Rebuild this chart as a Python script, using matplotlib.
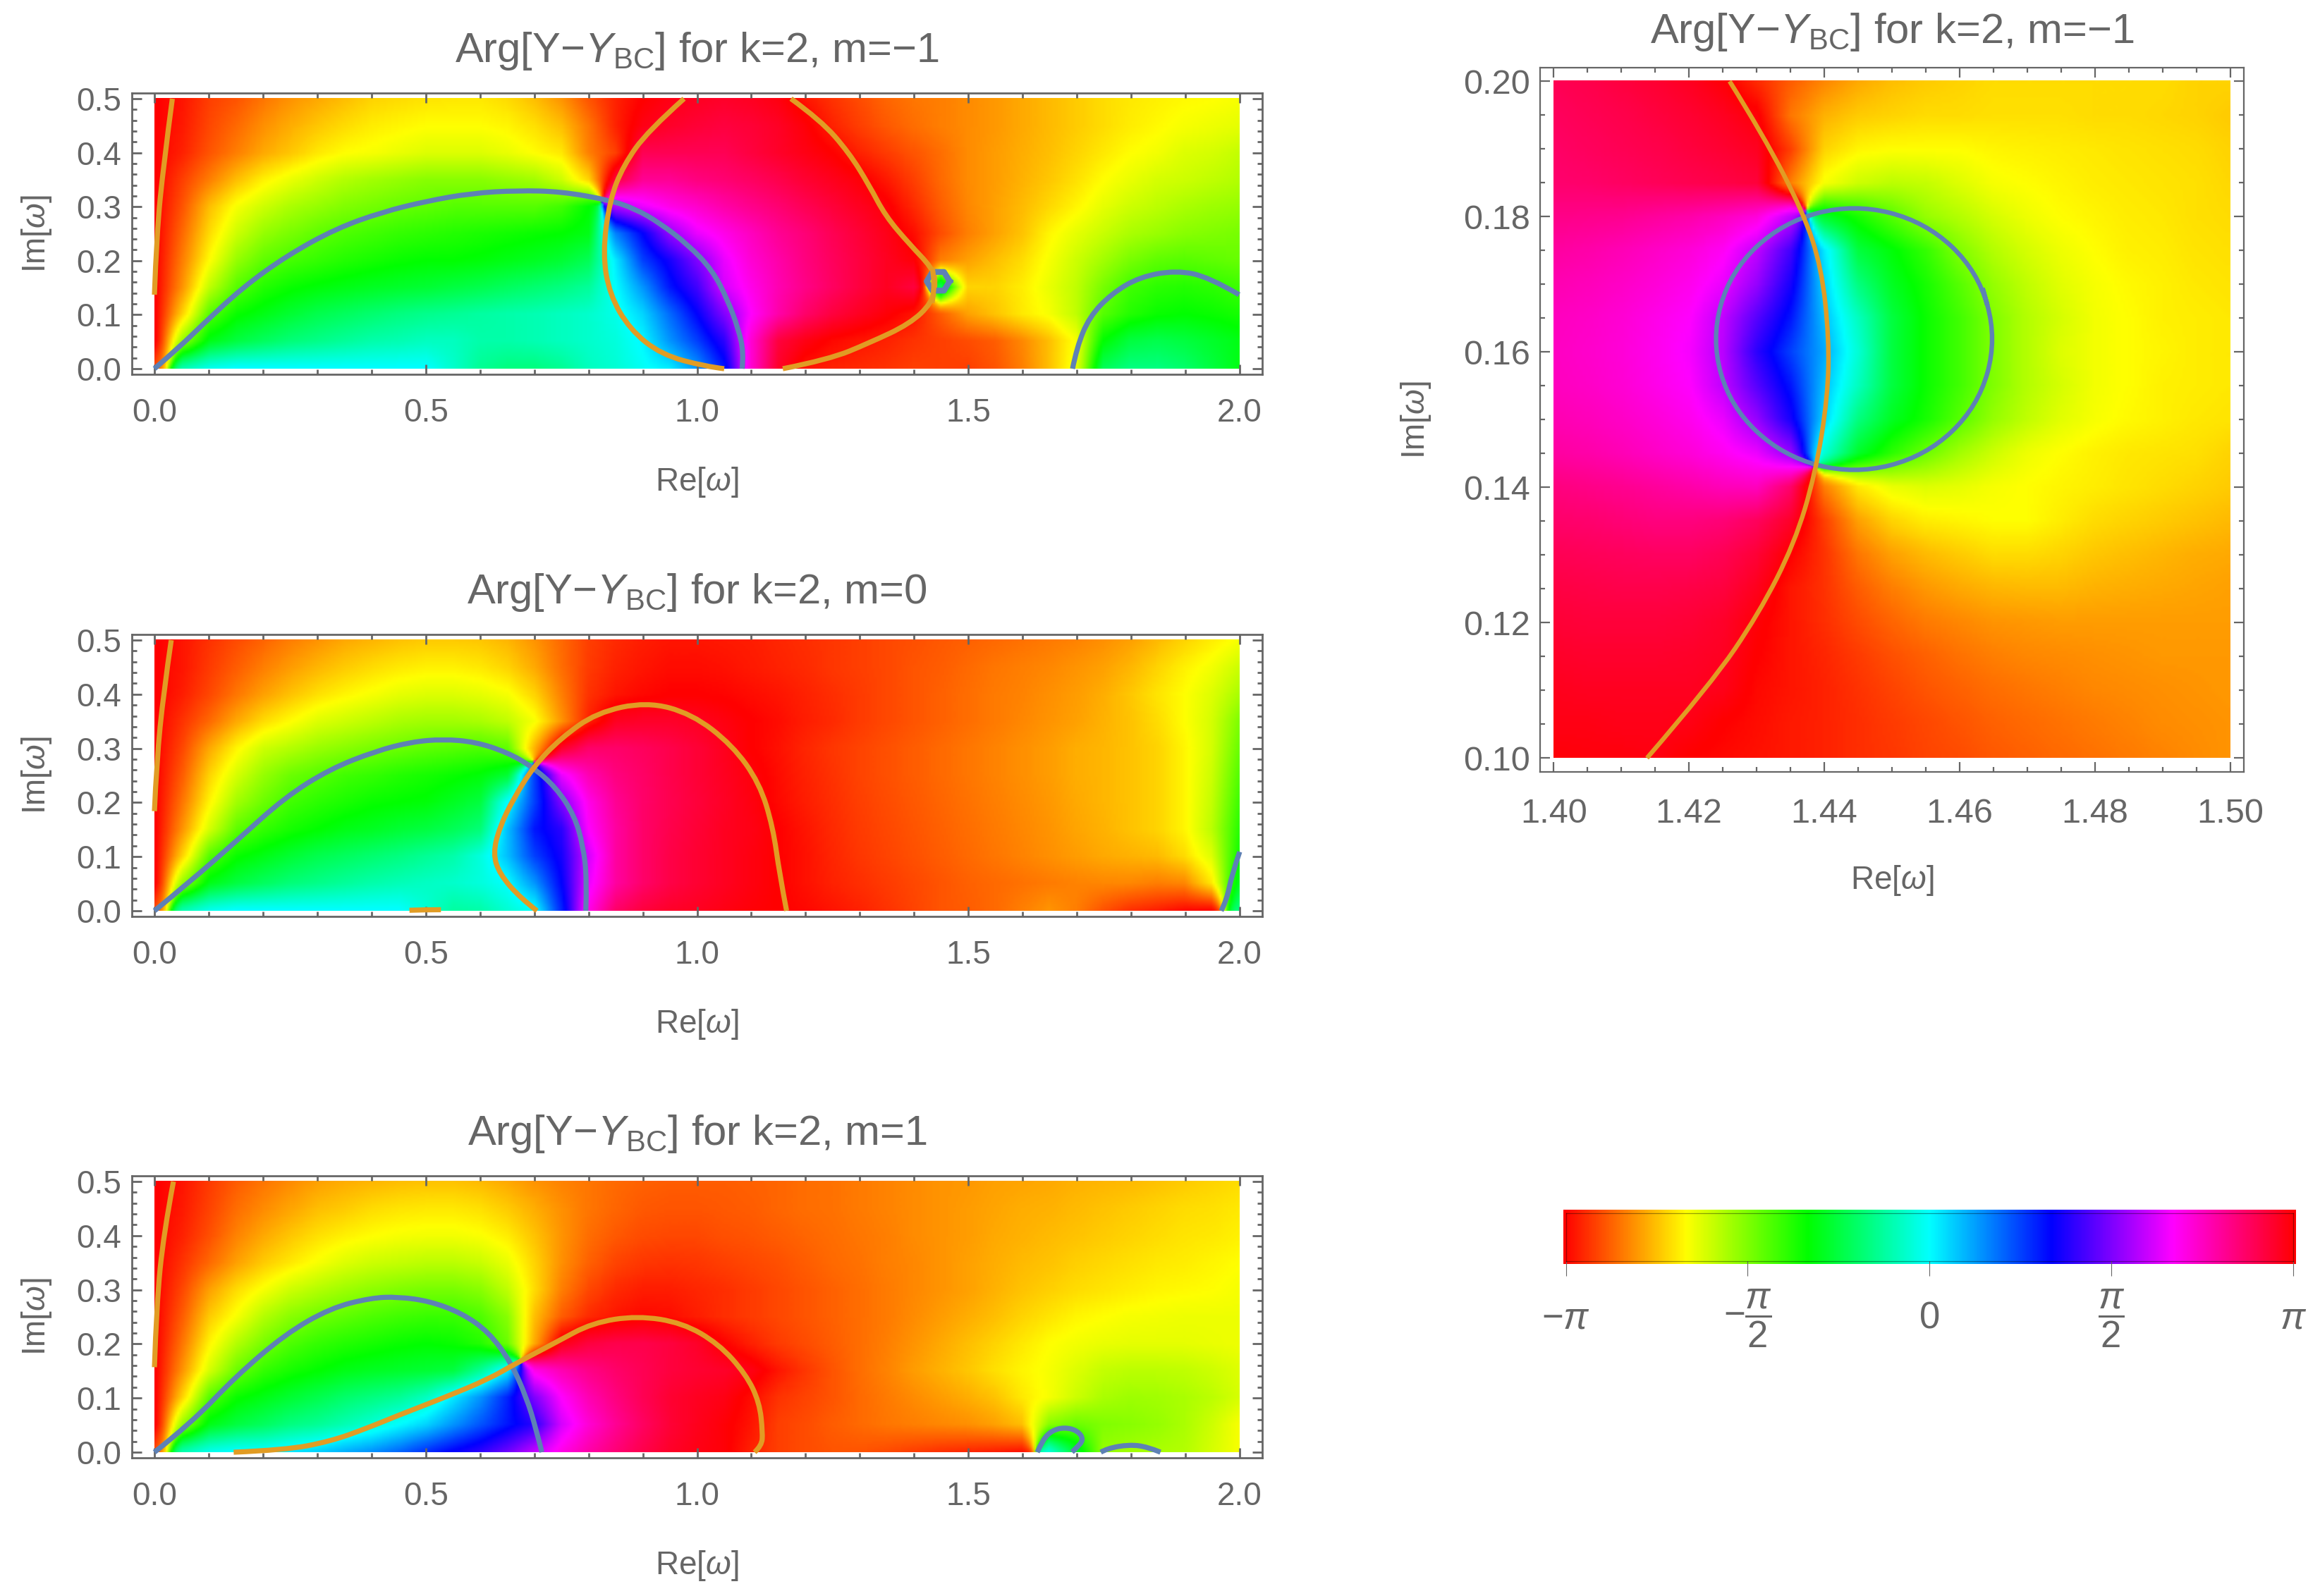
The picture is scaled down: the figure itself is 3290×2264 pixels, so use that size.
import numpy as np
import matplotlib
matplotlib.use("Agg")
import matplotlib.pyplot as plt
from matplotlib.colors import LinearSegmentedColormap, Normalize
from matplotlib.patches import PathPatch, Rectangle
from matplotlib.path import Path
from matplotlib.ticker import MultipleLocator, FormatStrFormatter
from matplotlib.transforms import Bbox

plt.rcParams['font.family'] = ['Liberation Sans', 'DejaVu Sans']
plt.rcParams['mathtext.fontset'] = 'custom'
plt.rcParams['mathtext.rm'] = 'Liberation Sans'
plt.rcParams['mathtext.it'] = 'Liberation Sans:italic'
plt.rcParams['mathtext.bf'] = 'Liberation Sans:bold'

# hue, in degrees (0 red, 60 yellow, 120 green, 180 cyan, 240 blue, 300 magenta)
# rows go from Im=0.5 down to Im=0 in steps of 0.05, columns from Re=0 to Re=2 in steps of 0.05
hue_m_minus1 = [
    [0,5,15,20,28,35,40,45,50,52, 54,55,55,52,45,35,20,8,0,355, 352,350,352,356,5,12,18,24,28,30, 33,36,40,44,48,52,55,57,59,60, 62],
    [0,6,17,25,34,41,47,52,56,58, 60,60,60,58,53,45,28,8,355,350, 347,345,347,351,358,8,15,21,26,30, 33,36,40,44,48,52,56,59,62,64, 66],
    [0,8,20,30,40,47,55,60,62,65, 68,68,68,65,60,55,30,15,340,340, 340,340,345,350,355,0,8,14,20,26, 33,37,41,45,50,55,60,63,68,70, 74],
    [0,15,30,45,57,65,72,78,82,85, 88,88,88,85,82,72,50,345,325,325, 330,333,337,342,348,353,358,6,15,25, 33,37,42,47,53,60,65,70,72,75, 78],
    [0,20,45,62,72,80,85,90,93,96, 98,100,100,100,100,105,120,280,295,305, 312,320,327,333,340,346,352,358,10,22, 32,38,44,51,58,66,72,76,80,83, 85],
    [0,25,52,72,85,92,98,102,105,108, 110,112,114,116,118,120,125,210,240,275, 295,305,315,325,332,340,347,354,3,18, 30,38,46,58,66,73,80,84,88,90, 92],
    [0,30,60,85,98,104,108,112,115,118, 120,120,122,125,128,132,140,185,225,245, 270,295,310,320,330,338,345,352,358,30, 38,45,52,62,72,82,92,98,100,98, 96],
    [0,35,75,100,112,118,122,125,128,130, 132,135,138,142,146,150,156,180,205,235, 255,290,305,318,328,337,345,352,345,140, 50,50,56,65,75,92,105,110,112,110, 106],
    [0,50,100,118,125,132,138,142,146,150, 153,155,158,160,162,165,168,175,190,215, 240,270,300,320,335,345,352,358,5,22, 38,46,55,62,75,100,112,118,120,118, 115],
    [0,85,125,135,142,148,152,156,160,162, 165,165,160,160,162,165,168,172,182,205, 225,250,310,345,355,2,5,8,12,15, 18,22,32,45,62,120,135,138,135,130, 125],
    [20,160,175,180,180,180,180,180,180,180, 180,168,155,150,150,155,165,170,178,185, 205,235,310,350,5,8,10,12,15,15, 15,20,30,45,65,140,150,150,145,135, 125],
]
hue_m_0 = [
    [0,5,12,18,24,30,35,40,43,46, 48,48,47,43,35,25,15,10,7,5, 5,6,7,9,11,13,15,17,19,21, 23,25,27,29,31,34,38,44,50,56, 62],
    [0,5,14,22,30,37,43,48,52,55, 57,57,55,50,40,26,14,8,5,3, 3,4,6,8,10,13,15,17,20,22, 25,28,30,32,35,38,43,50,57,63, 72],
    [0,7,17,28,38,46,53,58,62,66, 68,68,66,62,50,30,12,5,2,0, 0,1,3,5,8,11,14,17,20,23, 26,29,31,34,37,41,47,54,60,68, 80],
    [0,12,25,40,52,60,68,72,76,80, 82,82,80,75,62,35,8,352,350,350, 352,356,0,3,7,10,14,17,20,23, 26,29,32,35,38,42,46,52,60,70, 90],
    [0,17,40,58,72,78,84,88,92,95, 98,100,102,98,42,350,335,335,338,342, 347,353,0,4,9,13,16,19,22,25, 28,31,34,37,41,43,46,50,58,70, 95],
    [0,22,50,70,85,95,100,105,108,112, 115,118,122,132,225,295,318,330,336,342, 347,352,357,3,8,12,16,19,22,25, 28,31,34,37,41,43,46,50,58,72, 100],
    [0,28,58,82,95,105,110,114,118,120, 122,128,135,180,225,270,305,325,335,341, 346,351,356,2,7,11,15,18,21,24, 27,30,33,36,40,43,46,50,58,74, 105],
    [0,35,70,98,108,115,120,125,128,132, 135,140,148,195,235,250,300,322,335,342, 347,352,355,0,5,10,14,17,20,23, 26,29,32,35,39,42,46,50,58,76, 110],
    [0,50,100,118,125,132,138,142,146,150, 155,160,172,195,225,245,290,322,335,343, 348,352,356,0,4,9,13,16,19,22, 25,28,31,34,37,40,42,44,52,68, 115],
    [0,85,125,135,142,148,152,156,160,163, 166,168,172,180,205,240,295,322,335,343, 348,352,356,0,4,8,11,14,17,20, 23,25,27,29,31,32,32,30,32,55, 125],
    [20,160,175,180,180,180,180,180,180,180, 170,158,160,170,180,232,305,335,345,350, 352,355,358,0,2,5,8,12,16,20, 22,25,30,35,30,20,12,8,3,2, 150],
]
hue_m_1 = [
    [0,5,14,22,28,33,38,41,43,45, 46,46,44,40,35,31,28,25,23,22, 22,22,23,24,26,27,29,31,33,35, 36,38,39,40,42,43,44,46,48,50, 52],
    [0,6,16,26,33,39,45,48,52,54, 55,55,53,48,41,34,28,24,21,20, 20,21,22,24,26,27,29,31,33,35, 37,39,41,42,44,46,48,50,52,53, 55],
    [0,8,19,31,40,47,53,57,60,62, 63,63,61,56,46,35,26,21,18,17, 17,19,20,22,24,26,28,30,33,35, 37,40,42,44,46,48,50,52,54,55, 57],
    [0,12,25,38,48,55,62,68,72,74, 76,76,73,65,50,34,23,16,13,12, 13,15,17,19,22,25,27,30,32,35, 38,41,44,46,49,51,53,55,56,58, 60],
    [0,17,38,52,62,72,78,83,87,90, 92,92,88,75,52,30,17,10,7,7, 9,11,14,17,20,23,26,29,32,35, 38,42,46,49,52,54,56,58,59,60, 62],
    [0,22,48,62,78,88,94,98,102,105, 107,107,102,88,45,22,10,5,2,3, 7,11,14,17,20,23,26,29,33,37, 41,45,50,54,58,60,62,63,64,64, 64],
    [0,28,58,78,92,102,108,112,115,118, 120,118,112,95,40,355,345,342,342,345, 350,0,8,14,18,22,26,30,35,40, 45,50,55,60,63,65,66,66,66,65, 64],
    [0,35,70,95,108,115,120,125,128,130, 132,135,155,185,305,318,328,335,340,345, 348,350,355,5,13,20,26,31,37,42, 47,53,58,62,68,74,76,76,75,72, 68],
    [0,50,100,118,125,132,138,145,150,155, 165,185,205,232,270,300,318,330,340,348, 352,355,3,12,16,20,25,29,33,37, 41,46,55,62,72,80,83,82,80,76, 70],
    [0,85,125,135,142,150,155,162,170,180, 190,205,220,235,250,290,310,325,337,347, 353,358,5,15,18,22,25,28,30,32, 34,38,45,88,95,90,88,85,80,72, 62],
    [20,160,175,180,180,185,190,198,205,215, 228,240,250,265,285,305,320,332,342,350, 355,358,8,15,18,20,20,18,15,12, 10,8,5,170,130,85,82,80,78,70, 62],
]
# zoom panel: rows Im=0.20 to 0.10 in steps of 0.005, columns Re=1.40 to 1.50 in steps of 0.005
hue_zoom = [
    [340,342,345,348,352,358,10,22,32,40,45,48,50,52,52,52,52,52,52,50,50],
    [338,340,342,345,348,352,358,28,42,48,50,52,52,53,53,53,52,52,51,50,48],
    [336,338,340,342,345,348,352,15,50,58,60,60,60,58,57,56,55,54,53,52,50],
    [334,335,337,339,341,343,346,30,62,72,76,74,68,62,60,58,56,55,54,53,51],
    [328,327,326,323,320,315,308,285,130,115,100,85,78,70,64,60,58,56,55,53,52],
    [322,320,317,313,309,302,285,255,185,135,122,108,90,78,70,64,60,57,56,54,53],
    [318,316,313,309,304,295,275,245,190,150,128,115,100,85,75,67,62,59,57,55,54],
    [315,313,310,305,300,285,260,235,195,165,135,118,105,90,78,70,63,60,57,56,55],
    [314,312,309,304,298,283,250,225,200,170,135,118,105,90,78,68,63,60,58,56,55],
    [315,313,310,305,300,285,260,235,195,165,135,118,105,90,78,70,63,60,57,56,55],
    [318,316,313,309,304,295,275,245,190,150,128,115,100,85,75,67,62,59,57,55,54],
    [322,320,317,313,309,303,295,275,170,130,110,95,82,72,64,60,57,55,54,53,50],
    [330,328,326,323,320,316,315,335,30,55,65,68,66,62,60,58,56,54,52,50,48],
    [335,334,332,330,330,332,338,350,15,38,50,56,58,60,60,56,52,50,48,46,44],
    [340,339,338,337,337,340,347,0,12,28,38,44,48,52,52,50,47,45,43,41,40],
    [344,343,342,342,343,345,353,5,12,22,30,36,40,43,44,44,42,41,40,39,38],
    [347,346,346,346,347,350,358,5,11,18,24,29,32,35,36,37,37,37,37,37,37],
    [350,349,349,349,350,352,0,5,9,14,19,23,27,30,32,33,34,35,36,36,36],
    [353,352,352,352,352,354,2,5,8,12,16,20,23,26,28,30,32,33,34,35,36],
    [355,355,354,354,355,0,3,6,8,11,14,17,20,23,25,27,29,31,33,34,35],
    [358,357,357,356,0,2,4,6,8,11,13,16,18,21,23,25,27,29,31,33,35],
]

# lines, (Re, Im)
blue_a1 = [(0,0),(.046,.04),(.087,.08),(.162,.15),(.245,.21),(.336,.26),(.42,.29),(.5,.31),(.585,.325),(.669,.33),(.75,.328),(.839,.312),(.886,.296),(.931,.27),(.983,.23),(1.028,.183),(1.057,.126),(1.076,.074),(1.086,.03),(1.083,0)]
blue_a2 = [(1.692,0),(1.70,.04),(1.723,.096),(1.764,.139),(1.816,.17),(1.883,.182),(1.943,.17),(1.999,.137)]
orange_a1 = [(0,.137),(.004,.248),(.017,.38),(.033,.5)]
orange_a2 = [(.976,.5),(.909,.44),(.864,.376),(.839,.312),(.826,.213),(.839,.137),(.876,.073),(.934,.026),(1.016,.004),(1.05,0)]
orange_a3 = [(1.173,.5),(1.228,.46),(1.28,.4),(1.317,.34),(1.347,.283),(1.392,.23),(1.433,.187),(1.44,.16),(1.433,.122),(1.392,.083),(1.318,.048),(1.243,.017),(1.158,0)]

blue_b1 = [(0,0),(.067,.055),(.15,.128),(.241,.21),(.324,.262),(.408,.295),(.474,.312),(.532,.317),(.591,.312),(.649,.293),(.695,.267),(.74,.228),(.774,.176),(.79,.12),(.797,.059),(.795,0)]
blue_b2 = [(1.966,0),(1.976,.02),(1.986,.068),(2.0,.109)]
orange_b1 = [(0,.184),(.004,.275),(.017,.405),(.031,.5)]
orange_b2 = [(.705,0),(.674,.024),(.636,.068),(.624,.106),(.636,.154),(.661,.206),(.699,.267),(.749,.319),(.815,.366),(.907,.386),(.99,.364),(1.065,.306),(1.115,.236),(1.14,.154),(1.152,.068),(1.165,0)]
orange_b3 = [(.47,.001),(.5,.002),(.528,.002)]

blue_c1 = [(0,0),(.067,.053),(.15,.14),(.241,.218),(.324,.266),(.399,.285),(.449,.287),(.507,.279),(.566,.257),(.616,.222),(.657,.166),(.686,.1),(.703,.044),(.714,0)]
blue_c2 = [(1.627,0),(1.637,.023),(1.654,.04),(1.677,.046),(1.701,.04),(1.713,.023),(1.698,.007),(1.691,0)]
blue_c3 = [(1.744,0),(1.756,.007),(1.796,.014),(1.83,.01),(1.854,0)]
orange_c1 = [(0,.157),(.004,.274),(.017,.404),(.035,.5)]
orange_c2 = [(.146,0),(.241,.004),(.324,.02),(.391,.044),(.449,.068),(.532,.1),(.616,.135),(.666,.164),(.74,.203),(.807,.239),(.89,.252),(.973,.239),(1.04,.2),(1.09,.144),(1.115,.092),(1.121,.036),(1.119,.012),(1.106,0)]

blue_circle = [(1.4655,.1619),(1.4627,.1719),(1.4550,.1792),(1.4444,.1819),(1.4339,.1792),(1.4261,.1719),(1.4233,.1619),(1.4261,.1519),(1.4339,.1446),(1.4444,.1419),(1.4550,.1446),(1.4627,.1519),(1.4655,.1619)]
orange_zoom = [(1.426,.2),(1.431,.192),(1.4369,.1806),(1.4396,.1724),(1.4407,.162),(1.4405,.1533),(1.4387,.1421),(1.4356,.1317),(1.4303,.1213),(1.4233,.111),(1.4138,.1)]

titles = ['Arg[Y$-\\mathit{Y}_{\\mathrm{BC}}$] for k=2, m=\u22121',
          'Arg[Y$-\\mathit{Y}_{\\mathrm{BC}}$] for k=2, m=0',
          'Arg[Y$-\\mathit{Y}_{\\mathrm{BC}}$] for k=2, m=1']
bar_ticks = [-np.pi, -np.pi / 2, 0, np.pi / 2, np.pi]
bar_labels = ['$-\\pi$', '$-\\dfrac{\\pi}{2}$', '0', '$\\dfrac{\\pi}{2}$', '$\\pi$']

W, H = 3290, 2264
GRAY = '#666666'
BLUE = '#5E81B5'
ORANGE = '#E19C24'
hue_map = LinearSegmentedColormap.from_list('arg', ['#ff0000', '#ffff00', '#00ff00', '#00ffff', '#0000ff', '#ff00ff', '#ff0000'], N=720)


def box(left, top, right, bottom):
    return [left / W, 1 - bottom / H, (right - left) / W, (bottom - top) / H]


def draw_line(ax, points, color, lw):
    # quadratic path through the midpoints, so the read points give a smooth line
    pts = np.array(points, dtype=float)
    if len(pts) < 3:
        ax.plot(pts[:, 0], pts[:, 1], color=color, lw=lw)
        return
    closed = np.allclose(pts[0], pts[-1])
    if closed:
        mid = (pts[0] + pts[1]) / 2
        pts = np.vstack([mid, pts[1:], pts[1], mid])
    verts = [pts[0]]
    codes = [Path.MOVETO]
    for i in range(1, len(pts) - 1):
        end = pts[i + 1] if i == len(pts) - 2 else (pts[i] + pts[i + 1]) / 2
        verts += [pts[i], end]
        codes += [Path.CURVE3, Path.CURVE3]
    ax.add_patch(PathPatch(Path(verts, codes), fill=False, edgecolor=color, lw=lw, capstyle='butt', zorder=3))


def draw_field(ax, hue, x0, x1, y0, y1):
    # hue is circular, so the cells are blended as unit vectors for display; the read nodes stay as they are
    phase = np.exp(1j * np.radians(np.array(hue, dtype=float)))
    ny, nx = phase.shape
    up = 12
    rows = np.linspace(0, ny - 1, (ny - 1) * up + 1)
    cols = np.linspace(0, nx - 1, (nx - 1) * up + 1)
    r0 = np.minimum(rows.astype(int), ny - 2)
    c0 = np.minimum(cols.astype(int), nx - 2)
    fr = (rows - r0)[:, None]
    fc = (cols - c0)[None, :]
    fine = ((1 - fr) * (1 - fc) * phase[np.ix_(r0, c0)] + (1 - fr) * fc * phase[np.ix_(r0, c0 + 1)]
            + fr * (1 - fc) * phase[np.ix_(r0 + 1, c0)] + fr * fc * phase[np.ix_(r0 + 1, c0 + 1)])
    rgba = hue_map(Normalize(0, 360)(np.degrees(np.angle(fine)) % 360))
    ax.imshow(rgba, extent=[x0, x1, y0, y1], origin='upper', aspect='auto', interpolation='bilinear')


def style_axes(ax, size, xmaj, xmin, ymaj, ymin, xfmt, yfmt, xpad, ypad, lw):
    for s in ax.spines.values():
        s.set_color(GRAY)
        s.set_linewidth(lw)
        s.set_zorder(5)
    ax.xaxis.set_major_locator(MultipleLocator(xmaj))
    ax.xaxis.set_minor_locator(MultipleLocator(xmin))
    ax.yaxis.set_major_locator(MultipleLocator(ymaj))
    ax.yaxis.set_minor_locator(MultipleLocator(ymin))
    ax.xaxis.set_major_formatter(FormatStrFormatter(xfmt))
    ax.yaxis.set_major_formatter(FormatStrFormatter(yfmt))
    ax.tick_params(which='both', direction='in', top=True, right=True, color=GRAY, width=lw)
    ax.tick_params(which='major', length=10)
    ax.tick_params(which='minor', length=5)
    ax.tick_params(axis='x', which='major', labelsize=size, labelcolor=GRAY, pad=xpad)
    ax.tick_params(axis='y', which='major', labelsize=size, labelcolor=GRAY, pad=ypad)


fig = plt.figure(figsize=(W / 100, H / 100), dpi=100)

strips = [
    (132, 531, hue_m_minus1, [blue_a1, blue_a2], [orange_a1, orange_a2, orange_a3]),
    (900, 1300, hue_m_0, [blue_b1, blue_b2], [orange_b1, orange_b2, orange_b3]),
    (1668, 2068, hue_m_1, [blue_c1, blue_c2, blue_c3], [orange_c1, orange_c2]),
]
for (top, bottom, hue, blues, oranges), title in zip(strips, titles):
    ax = fig.add_axes(box(187, top, 1790, bottom))
    draw_field(ax, hue, 0, 2, 0, 0.5)
    for line in blues:
        draw_line(ax, line, BLUE, 5.2)
    for line in oranges:
        draw_line(ax, line, ORANGE, 5.2)
    if hue is hue_m_minus1:
        ax.plot(*zip(*blue_circle[::2]), color=BLUE, lw=6, zorder=3)
        draw_line(ax, [(1.433, .187), (1.44, .16), (1.433, .122)], ORANGE, 5.2)
    ax.set_xlim(-0.0416, 2.0416)
    ax.set_ylim(-0.0104, 0.5104)
    style_axes(ax, 33, 0.5, 0.1, 0.1, 0.02, '%.1f', '%.1f', 24, 11, 2.0)
    ax.set_title(title, fontsize=43, color=GRAY, y=1.127, va='center')
    ax.set_xlabel('Re[$\\omega$]', fontsize=33, color=GRAY, va='center')
    ax.set_ylabel('Im[$\\omega$]', fontsize=33, color=GRAY, va='center')
    ax.xaxis.set_label_coords(0.5, -0.383)
    ax.yaxis.set_label_coords(-0.0845, 0.5)

ax = fig.add_axes(box(2184, 96, 3182, 1094.5))
draw_field(ax, hue_zoom, 1.40, 1.50, 0.10, 0.20)
draw_line(ax, blue_circle, BLUE, 4.6)
draw_line(ax, orange_zoom, ORANGE, 4.6)
ax.set_xlim(1.398, 1.502)
ax.set_ylim(0.098, 0.202)
style_axes(ax, 35, 0.02, 0.005, 0.02, 0.005, '%.2f', '%.2f', 27, 10, 1.6)
ax.set_title(titles[0], fontsize=43, color=GRAY, y=1.042, va='center')
ax.set_xlabel('Re[$\\omega$]', fontsize=33, color=GRAY, va='center')
ax.set_ylabel('Im[$\\omega$]', fontsize=33, color=GRAY, va='center')
ax.xaxis.set_label_coords(0.5, -0.155)
ax.yaxis.set_label_coords(-0.176, 0.5)

cax = fig.add_axes(box(2220.5, 1721, 3252, 1789))
grad = np.linspace(0, 1, 512)[None, :]
cax.imshow(grad, cmap=hue_map, extent=[-np.pi * 1.0068, np.pi * 1.0068, -0.06, 1.06], aspect='auto', clip_on=False)
cax.set_xlim(-np.pi, np.pi)
cax.set_ylim(0, 1)
cax.set_yticks([])
for s in cax.spines.values():
    s.set_color('#00000060')
    s.set_linewidth(0.9)
cax.set_xticks(bar_ticks)
cax.set_xticklabels([])
cax.tick_params(axis='x', direction='out', length=15, width=0.8, color=GRAY)
for x, lab in zip(bar_ticks, bar_labels):
    cax.text(x, -1.2, lab, fontsize=38, color=GRAY, ha='center', va='center', transform=cax.get_xaxis_transform())

# the last tick label of the zoom panel is cut off in the original figure
fig.canvas.draw()
for lab in ax.get_xticklabels():
    lab.set_clip_box(Bbox([[0, 0], [3208, H]]))
    lab.set_clip_on(True)

fig.savefig('out.png', dpi=100, facecolor='white')
